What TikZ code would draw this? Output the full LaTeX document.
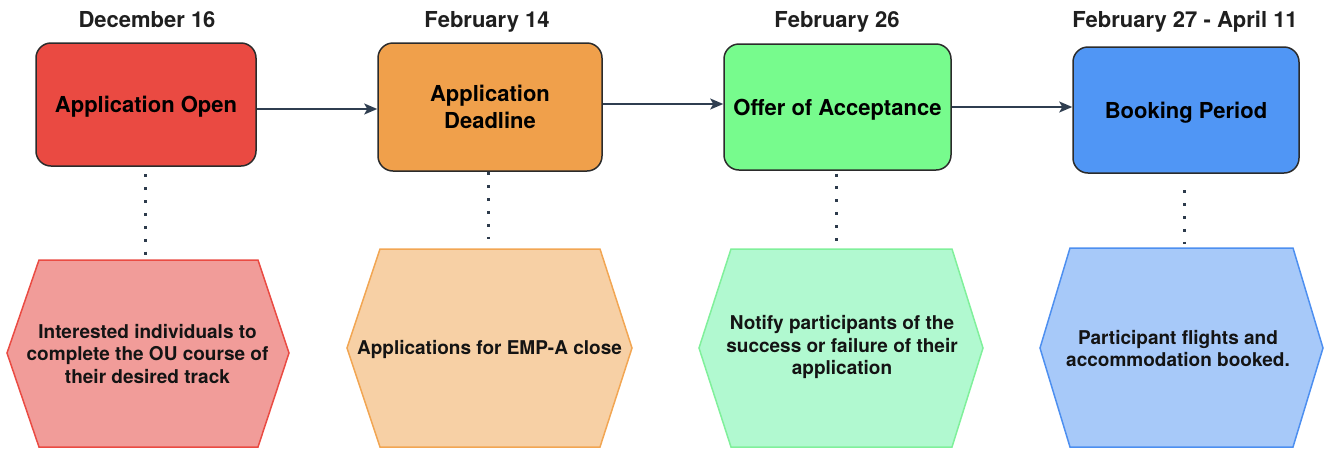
\documentclass[tikz,border=0pt]{standalone}
\usepackage{fontspec}
\setmainfont{TeX Gyre Heros}
\usetikzlibrary{arrows.meta}
\definecolor{boxline}{HTML}{2B2B2B}
\definecolor{arrcol}{HTML}{2F3E50}
\definecolor{datecol}{HTML}{1F1F1F}
\definecolor{fillA}{HTML}{EA4A42}
\definecolor{fillB}{HTML}{F0A04B}
\definecolor{fillC}{HTML}{77FB8D}
\definecolor{fillD}{HTML}{5096F5}
\definecolor{hexfA}{HTML}{F19C99}
\definecolor{hexsA}{HTML}{EA4B43}
\definecolor{hexfB}{HTML}{F7D0A5}
\definecolor{hexsB}{HTML}{F2A653}
\definecolor{hexfC}{HTML}{B1F9D0}
\definecolor{hexsC}{HTML}{80F09B}
\definecolor{hexfD}{HTML}{A7C9F9}
\definecolor{hexsD}{HTML}{4D8FF0}
\newcommand\tlfont{\bfseries\fontsize{22}{26.4}\selectfont}
\newcommand\hxfont{\bfseries\fontsize{19}{22.5}\selectfont}
\begin{document}
\begin{tikzpicture}[x=1pt,y=-1pt,
  box/.style={draw=boxline, line width=1.5pt, rounded corners=15pt, inner sep=0pt, align=center, font=\tlfont, text=black},
  oneline/.style={text height=16pt, text depth=0pt},
  datelabel/.style={font=\tlfont, text=datecol, anchor=base, inner sep=0pt},
  hexshape/.style={line width=1.5pt, line join=miter},
  hextext/.style={font=\hxfont, text=black!92, align=center, inner sep=0pt},
  arr/.style={draw=arrcol, line width=1.6pt, -{Stealth[length=13pt,width=11pt,inset=3pt]}},
  dots/.style={draw=arrcol!95!black, line width=3pt, dash pattern=on 3pt off 9.9pt}
]
\useasboundingbox (0,0) rectangle (1326,448);

% dates
\node[datelabel] (t1) at (147,27) {December 16};
\node[datelabel] (t2) at (487,27) {February 14};
\node[datelabel] (t3) at (837,27) {February 26};
\node[datelabel] (t4) at (1185,27) {February 27 - April 11};

% main boxes
\node[box, oneline, fill=fillA, minimum width=220pt, minimum height=123pt] (b1) at (146,104.5) {Application Open};
\node[box, fill=fillB, minimum width=224pt, minimum height=128pt] (b2) at (490,107) {Application\\Deadline};
\node[box, oneline, fill=fillC, minimum width=227pt, minimum height=126pt] (b3) at (837.5,107) {Offer of Acceptance};
\node[box, oneline, fill=fillD, minimum width=226pt, minimum height=126pt] (b4) at (1186,110) {Booking Period};

% arrows
\draw[arr] ([yshift=-4.5pt]b1.east) -- ([yshift=-2pt]b2.west);
\draw[arr] ([yshift=3pt]b2.east) -- ([yshift=3pt]b3.west);
\draw[arr] ([yshift=0pt]b3.east) -- ([yshift=3pt]b4.west);

% hexagons
\draw[hexshape, fill=hexfA, draw=hexsA] (39,260) -- (258,260) -- (289,353) -- (258,447) -- (39,447) -- (7,353) -- cycle;
\draw[hexshape, fill=hexfB, draw=hexsB] (380,249) -- (600,249) -- (632,348) -- (600,447) -- (380,447) -- (347,348) -- cycle;
\draw[hexshape, fill=hexfC, draw=hexsC] (731,249) -- (952,249) -- (983,348) -- (952,447) -- (731,447) -- (699,348) -- cycle;
\draw[hexshape, fill=hexfD, draw=hexsD] (1070,248) -- (1293,248) -- (1323,348) -- (1293,447) -- (1070,447) -- (1040,348) -- cycle;

\coordinate (h1) at (145,260);
\coordinate (h2) at (488,249);
\coordinate (h3) at (836,248);
\coordinate (h4) at (1184,248);

\node[hextext] (x1) at (147.5,354) {Interested individuals to\\complete the OU course of\\their desired track};
\node[hextext, oneline, text height=13.6pt] (x2) at (489.5,348) {Applications for EMP-A close};
\node[hextext] (x3) at (842,347) {Notify participants of the\\success or failure of their\\application};
\node[hextext] (x4) at (1178,348.5) {Participant flights and\\accommodation booked.};

% dotted connectors
\draw[dots, shorten <=7.5pt, shorten >=5.5pt] (b1.south -| h1) -- (h1);
\draw[dots, shorten <=0.5pt, shorten >=10.5pt] (b2.south -| h2) -- (h2);
\draw[dots, shorten <=2.8pt, shorten >=7.5pt] (b3.south -| h3) -- (h3);
\draw[dots, shorten <=16.5pt, shorten >=4.5pt] (b4.south -| h4) -- (h4);
\end{tikzpicture}
\end{document}
